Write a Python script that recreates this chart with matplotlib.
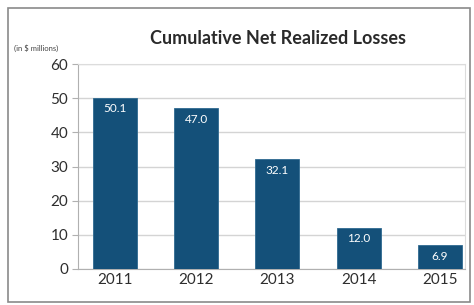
import matplotlib
matplotlib.use('Agg')
import matplotlib.pyplot as plt
from matplotlib.patches import Rectangle

years = ['2011', '2012', '2013', '2014', '2015']
losses = [50.1, 47.0, 32.1, 12.0, 6.9]
yticks = [0, 10, 20, 30, 40, 50, 60]

plt.rcParams['font.family'] = ['Lato', 'DejaVu Sans']

W, H = 474, 305
fig = plt.figure(figsize=(W / 100, H / 100), dpi=100)
ax = fig.add_axes([78 / W, 1 - 269 / H, (465 - 78) / W, (269 - 64) / H])

# outer frame
fig.patches.append(Rectangle((8 / W, 3 / H), (470 - 8) / W, (297 - 3) / H,
                             transform=fig.transFigure, fill=False,
                             edgecolor='#8a8a8a', linewidth=1.2))

x = range(len(years))
bars = ax.bar(x, losses, width=0.54, color='#145079', edgecolor='#2f6a90',
              linewidth=0.6, zorder=3)
for xi, v in zip(x, losses):
    ax.text(xi, v - 1.6, f'{v:.1f}', ha='center', va='top', color='white',
            fontsize=8.5, zorder=4)

ax.set_xlim(-0.455, 4.31)
ax.set_ylim(0, 60)
ax.set_yticks(yticks)
ax.set_xticks(list(x))
ax.set_xticklabels(years)
ax.grid(axis='y', color='#d4d4d4', linewidth=1.0, zorder=0)
for s in ['top', 'right']:
    ax.spines[s].set_color('#dcdcdc')
ax.spines['left'].set_color('#b0b0b0')
ax.spines['bottom'].set_color('#b0b0b0')
ax.tick_params(axis='y', colors='#b0b0b0', labelcolor='#2e2e2e', labelsize=11,
               length=4, pad=3)
ax.tick_params(axis='x', length=0, labelcolor='#2e2e2e', labelsize=11, pad=3)

fig.text(278 / W, 1 - 38 / H, 'Cumulative Net Realized Losses', ha='center',
         va='center', fontsize=13, fontweight='bold', color='#2a2a2a')
fig.text(14 / W, 1 - 48 / H, '(in $ millions)', ha='left', va='center',
         fontsize=5.5, color='#444444')

fig.savefig('out.png', dpi=100)
